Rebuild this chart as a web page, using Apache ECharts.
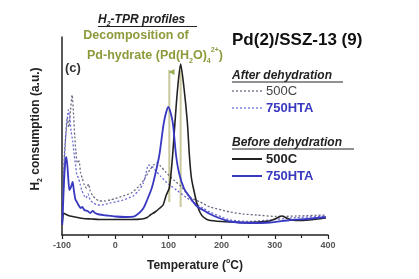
<!DOCTYPE html>
<html>
<head>
<meta charset="utf-8">
<script src="https://cdn.jsdelivr.net/npm/echarts@6/dist/echarts.min.js"></script>
<style>html,body{margin:0;padding:0;background:#fff}#c{width:419px;height:279px}</style>
</head>
<body>
<div id="c"></div>
<script>
// x ticks
const xTicks = [-100, 0, 100, 200, 300, 400];
// Before dehydration (solid)
const before500C = [[-99.5,12],[-98,20],[-97,22],[-94,21],[-90,20],[-85,19],[-75,18],[-60,16.5],[-45,16],[-30,15.5],[0,15.5],[30,15.5],[50,16],[60,17.5],[66,20],[75,23],[84,27],[90,30],[96,40],[101.7,47],[105,62],[108,80],[112.4,113],[117.4,147],[123,171],[129.3,147],[135.6,113],[139.4,80],[143,58],[146.9,47],[154.3,30],[160,22],[165.6,18],[175,15],[200,13.5],[250,12.5],[290,14],[300,16],[313,19],[322,17],[332,15],[350,14.5],[380,16],[396,17]];
const before750HTA = [[-99.5,10],[-98,30],[-96,55],[-94,72],[-92,78],[-90,70],[-88,55],[-86,45],[-83,48],[-80,53],[-78,46],[-75,36],[-72,33],[-69,30],[-65,27],[-62,28],[-58,25],[-52,24],[-47,22],[-42,24],[-38,22],[-30,20.5],[-16,19.5],[0,18.5],[20,18],[34,18.3],[45,22],[52.9,26.7],[60,35],[68.6,46.7],[75,60],[83,80],[91.7,113],[99.9,128],[108,113],[114.3,80],[120,62],[129.3,46.7],[140,38],[153,29],[165,25],[178,21],[195,17],[216,13.5],[253,12],[291,12.5],[329,15],[360,16],[396,18]];
// After dehydration (dotted)
const after500C = [[-99.5,14],[-98,40],[-96,75],[-93,100],[-90,118],[-87,108],[-84,125],[-81,140],[-78,118],[-76,98],[-74,84],[-71,72],[-68,74],[-65,62],[-62,57],[-58,50],[-54,47],[-50,51],[-47,44],[-42,39],[-36,36],[-30,34],[-20,34],[-10,35],[0,36.5],[15,39],[30,42],[45,49],[55,56],[65,65],[72,70],[78,72],[85,69],[95,63],[110,55],[125,48],[140,38],[160,33],[178,28],[200,25],[216,23],[240,21],[266,20],[303,18.5],[340,19],[396,20]];
const after750HTA = [[-99.5,12],[-98,35],[-96,70],[-93,98],[-91,110],[-88,125],[-85,116],[-83,104],[-80,94],[-77,80],[-74,68],[-72,60],[-69,57],[-66,51],[-63,45],[-59,40],[-55,37],[-51,41],[-47,35],[-41,32],[-33,30],[-25,30],[-10,32],[0,33],[15,35],[34,39],[45,45],[52.8,51.7],[58,62],[62.3,70],[68,69],[75,65],[85,59],[100,51],[115,45],[135,37],[153,31],[165,27],[178,23],[200,18],[216,15],[250,13.5],[290,15],[330,17],[396,19]];
// vertical guide lines (°C) and arrow
const guideLeft = [[101.7,165],[101.7,33]];
const guideRight = [[123,165],[123,28]];
const arrowPt = [[106,163]];

const chart = echarts.init(document.getElementById('c'), null, {renderer:'canvas'});
const F = 'Liberation Sans, Arial, sans-serif';
const olive = '#8e9a3c';
const guideCol = '#c9c99c';
const dark = '#222';
const blue = '#3838c0';
const dotBlue = '#6c6cd2';
const dotGray = '#6a6a80';

chart.setOption({
  animation:false,
  backgroundColor:'#fff',
  grid:{left:62,right:91,top:37,bottom:44},
  xAxis:{type:'value',min:-100,max:400,interval:100,
    axisLine:{onZero:false,lineStyle:{color:dark,width:1.5}},
    axisTick:{show:true,length:4,lineStyle:{color:dark,width:1.2}},
    minorTick:{show:true,splitNumber:2,length:3,lineStyle:{color:dark,width:1.2}},
    splitLine:{show:false},
    axisLabel:{margin:6,fontSize:9,fontWeight:'bold',color:'#555',fontFamily:F,
      formatter:v=>xTicks.includes(v)?String(v):''}},
  yAxis:{type:'value',min:0,max:198,
    axisLine:{show:true,onZero:false,lineStyle:{color:dark,width:1.5}},
    axisTick:{show:false},axisLabel:{show:false},splitLine:{show:false}},
  series:[
    {type:'line',data:guideLeft,symbol:'none',lineStyle:{color:guideCol,width:2},z:1},
    {type:'line',data:guideRight,symbol:'none',lineStyle:{color:guideCol,width:2},z:1},
    {type:'line',name:'after500C',data:after500C,symbol:'none',smooth:0.2,lineStyle:{color:dotGray,width:1.3,type:[2,2]},z:2},
    {type:'line',name:'after750HTA',data:after750HTA,symbol:'none',smooth:0.2,lineStyle:{color:dotBlue,width:1.3,type:[2,2]},z:2},
    {type:'line',name:'before500C',data:before500C,symbol:'none',smooth:0.25,lineStyle:{color:dark,width:1.6},z:3},
    {type:'line',name:'before750HTA',data:before750HTA,symbol:'none',smooth:0.25,lineStyle:{color:blue,width:1.8},z:4},
    {type:'scatter',data:arrowPt,symbol:'triangle',symbolSize:6,symbolRotate:90,itemStyle:{color:'#7f9a30'},z:5}
  ],
  graphic:[
    {type:'text',x:98,y:20,style:{text:'H{s|2}-TPR profiles',font:'italic bold 12px '+F,fill:dark,align:'left',verticalAlign:'middle',
      rich:{s:{font:'italic bold 7px '+F,fill:dark,verticalAlign:'bottom',lineHeight:16}}}},
    {type:'line',shape:{x1:98,y1:26.5,x2:197,y2:26.5},style:{stroke:dark,lineWidth:1}},
    {type:'text',x:136,y:36,style:{text:'Decomposition of',font:'bold 12.5px '+F,fill:olive,align:'center',verticalAlign:'middle'}},
    {type:'text',x:87,y:56,style:{text:'Pd-hydrate (Pd(H{s|2}O){s|4}{p|2+})',font:'bold 12.5px '+F,fill:olive,align:'left',verticalAlign:'middle',
      rich:{s:{font:'bold 7px '+F,fill:olive,verticalAlign:'bottom',lineHeight:18},p:{font:'bold 7px '+F,fill:olive,verticalAlign:'top',lineHeight:18}}}},
    {type:'text',x:65,y:68,style:{text:'(c)',font:'bold 13px '+F,fill:'#333',align:'left',verticalAlign:'middle'}},
    {type:'text',x:232,y:40,style:{text:'Pd(2)/SSZ-13 (9)',font:'bold 17px '+F,fill:'#111',align:'left',verticalAlign:'middle'}},
    {type:'text',x:232,y:76,style:{text:'After dehydration',font:'italic bold 12px '+F,fill:dark,align:'left',verticalAlign:'middle'}},
    {type:'line',shape:{x1:232,y1:82,x2:343,y2:82},style:{stroke:dark,lineWidth:1}},
    {type:'line',shape:{x1:232,y1:91,x2:262,y2:91},style:{stroke:dotGray,lineWidth:1.3,lineDash:[2,2]}},
    {type:'text',x:266,y:91,style:{text:'500C',font:'13px '+F,fill:'#444',align:'left',verticalAlign:'middle'}},
    {type:'line',shape:{x1:232,y1:108,x2:262,y2:108},style:{stroke:dotBlue,lineWidth:1.3,lineDash:[2,2]}},
    {type:'text',x:266,y:108,style:{text:'750HTA',font:'bold 13px '+F,fill:blue,align:'left',verticalAlign:'middle'}},
    {type:'text',x:232,y:143,style:{text:'Before dehydration',font:'italic bold 12px '+F,fill:dark,align:'left',verticalAlign:'middle'}},
    {type:'line',shape:{x1:232,y1:149,x2:354,y2:149},style:{stroke:dark,lineWidth:1}},
    {type:'line',shape:{x1:232,y1:159,x2:262,y2:159},style:{stroke:dark,lineWidth:2}},
    {type:'text',x:266,y:159,style:{text:'500C',font:'bold 13px '+F,fill:dark,align:'left',verticalAlign:'middle'}},
    {type:'line',shape:{x1:232,y1:176,x2:262,y2:176},style:{stroke:blue,lineWidth:2}},
    {type:'text',x:266,y:176,style:{text:'750HTA',font:'bold 13px '+F,fill:blue,align:'left',verticalAlign:'middle'}},
    {type:'text',x:195,y:266,style:{text:'Temperature ({p|o}C)',font:'bold 12px '+F,fill:dark,align:'center',verticalAlign:'middle',
      rich:{p:{font:'bold 7px '+F,fill:dark,verticalAlign:'top',lineHeight:16}}}},
    {type:'text',x:36,y:129,rotation:Math.PI/2,style:{text:'H{s|2} consumption (a.u.)',font:'bold 12px '+F,fill:dark,align:'center',verticalAlign:'middle',
      rich:{s:{font:'bold 7px '+F,fill:dark,verticalAlign:'bottom',lineHeight:16}}}}
  ]
});
</script>
</body>
</html>
